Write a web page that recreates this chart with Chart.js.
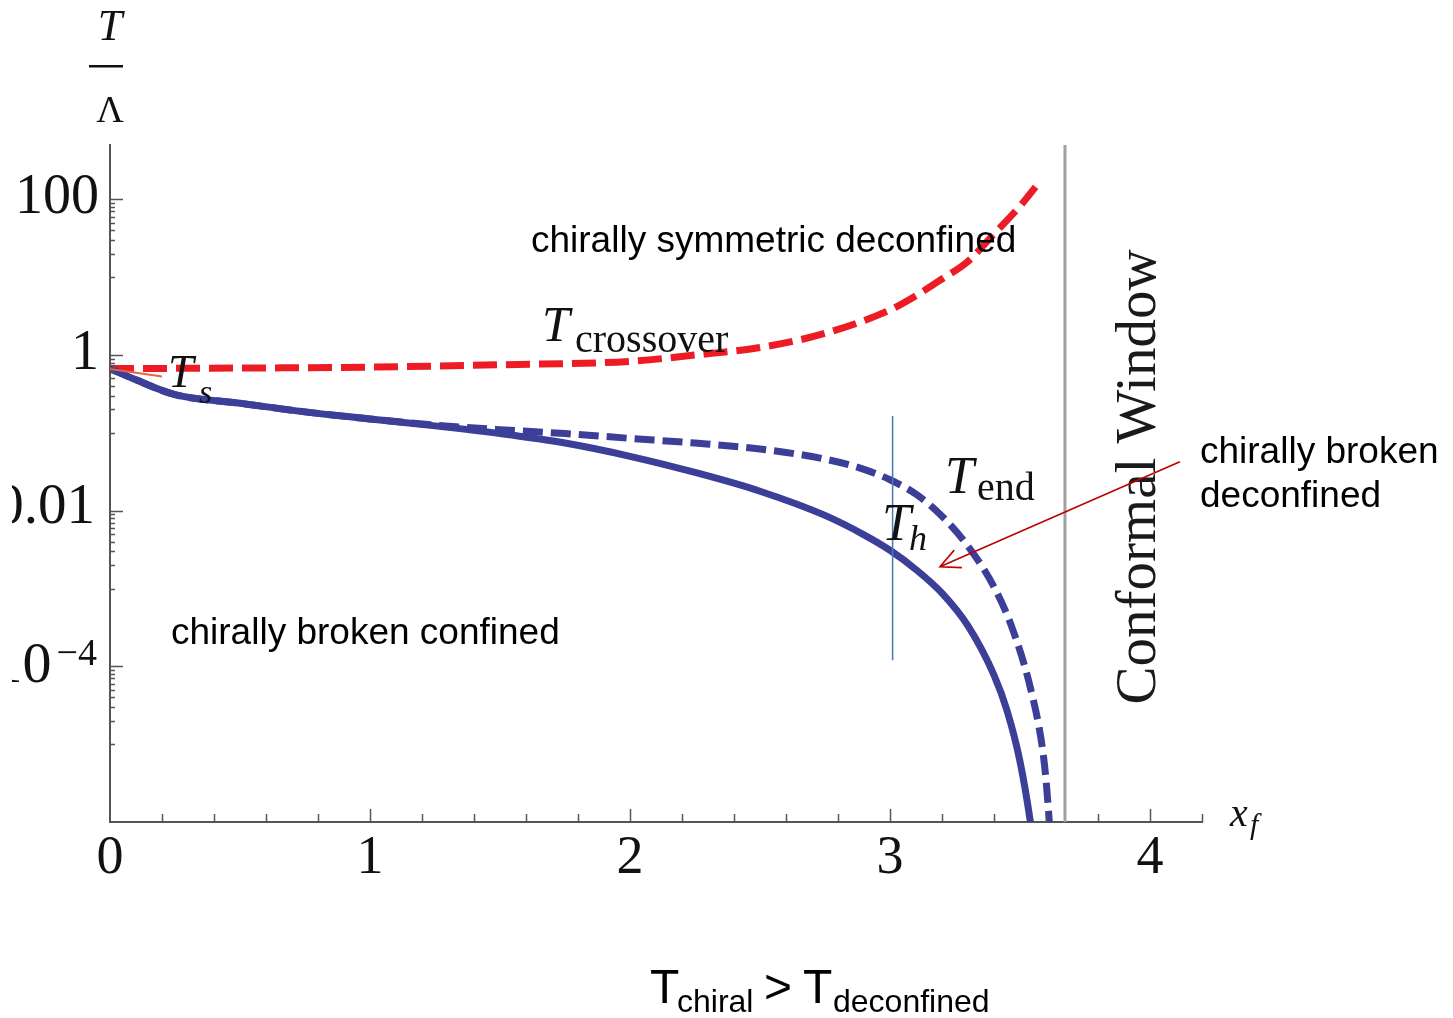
<!DOCTYPE html>
<html>
<head>
<meta charset="utf-8">
<title>T/Λ vs x_f</title>
<script src="https://cdn.jsdelivr.net/npm/chart.js@4.4.1/dist/chart.umd.min.js"></script>
<style>
  html, body { margin: 0; padding: 0; background: #fff; overflow: hidden; }
  #wrap { position: relative; width: 1453px; height: 1018px; }
</style>
</head>
<body>
<div id="wrap"><canvas id="chart" width="1453" height="1018"></canvas></div>
<script>
// values (x_f, T/Λ)
const xCrossover = [0, 0.5, 1.0, 1.5, 2.0, 2.25, 2.5, 2.75, 3.0, 3.1, 3.2, 3.3, 3.4, 3.5, 3.56];
const tCrossover = [0.67, 0.68, 0.70, 0.75, 0.83, 1.0, 1.25, 1.9, 3.8, 5.8, 9.5, 16, 36, 82, 145];

const xHadron = [0, 0.1, 0.25, 0.5, 0.75, 1.0, 1.25, 1.5, 1.75, 2.0, 2.25, 2.5, 2.75, 2.9, 3.0, 3.1, 3.2, 3.3, 3.4, 3.45, 3.5, 3.54, 3.56];
const tHadron = [0.67, 0.48, 0.31, 0.24, 0.186, 0.151, 0.123, 0.098, 0.074, 0.05, 0.031, 0.0178, 0.0087, 0.0049, 0.0031, 0.00175, 8.7e-4, 3.3e-4, 7.7e-5, 2.7e-5, 6e-6, 1e-6, 3e-7];

const xEnd = [0, 0.1, 0.25, 0.5, 0.75, 1.0, 1.25, 1.5, 1.75, 2.0, 2.25, 2.5, 2.75, 2.9, 3.0, 3.1, 3.2, 3.3, 3.4, 3.47, 3.54, 3.585, 3.6, 3.615];
const tEnd = [0.67, 0.48, 0.31, 0.24, 0.186, 0.151, 0.126, 0.11, 0.098, 0.085, 0.074, 0.062, 0.046, 0.034, 0.025, 0.0163, 0.0085, 0.0035, 0.00105, 3.1e-4, 5.3e-5, 9.5e-6, 3.5e-6, 8e-7];

const xSpinodal = [0, 0.2];
const tSpinodal = [0.66, 0.53];

const conformalEdge = 3.673;
const markerX = 3.01;
const markerSpan = [0.165, 1.2e-4];

// arrow from the "chirally broken deconfined" note to the region between the curves
const arrowFrom = { x: 4.115, y: 0.0425 };
const arrowTo = { x: 3.192, y: 1.9e-3 };

const xRange = [0, 4.2];
const yRange = [1e-6, 500];
const xTickLabels = ['0', '1', '2', '3', '4'];
const yTickValues = [1e-4, 1e-2, 1, 100];
const yTickLabels = ['10^−4', '0.01', '1', '100'];

const RED = 'rgb(237,28,36)';
const BLUE = '#3c3f97';
const SERIF = '"Liberation Serif", "Times New Roman", serif';
const SANS = '"Liberation Sans", Arial, sans-serif';

const pts = (xs, ys) => xs.map((x, i) => ({ x: x, y: ys[i] }));

// axes ticks, labels and all the text of the figure
const overlay = {
  id: 'overlay',
  afterDraw(chart) {
    const ctx = chart.ctx;
    const a = chart.chartArea;
    const xs = chart.scales.x, ys = chart.scales.y;
    ctx.save();

    // tick marks, drawn inwards like the original
    ctx.strokeStyle = '#555';
    ctx.lineWidth = 1.5;
    ctx.beginPath();
    for (let i = 1; i * 0.2 <= xRange[1] + 1e-9; i++) {
      const v = i * 0.2;
      const px = Math.round(xs.getPixelForValue(v)) + 0.5;
      const len = Math.abs(v - Math.round(v)) < 1e-6 ? 13 : 8;
      ctx.moveTo(px, a.bottom);
      ctx.lineTo(px, a.bottom - len);
    }
    yTickValues.forEach(v => {
      let py = Math.round(ys.getPixelForValue(v)) + 0.5;
      ctx.moveTo(a.left, py);
      ctx.lineTo(a.left + 13, py);
      for (let m = 1; m <= 9; m++) {
        py = Math.round(ys.getPixelForValue(m * v / 10)) + 0.5;
        ctx.moveTo(a.left, py);
        ctx.lineTo(a.left + 5, py);
      }
    });
    ctx.stroke();

    // tick labels
    ctx.fillStyle = '#111';
    ctx.font = `54px ${SERIF}`;
    ctx.textAlign = 'center';
    ctx.textBaseline = 'alphabetic';
    xTickLabels.forEach((t, i) => ctx.fillText(t, xs.getPixelForValue(i), a.bottom + 51));

    // the original figure is cut a little on its left side
    ctx.save();
    ctx.beginPath();
    ctx.rect(12, 0, a.left, chart.height);
    ctx.clip();
    ctx.textAlign = 'right';
    yTickValues.forEach((v, i) => {
      const py = ys.getPixelForValue(v);
      const lab = yTickLabels[i];
      if (lab.includes('^')) {
        const [base, exp] = lab.split('^');
        ctx.font = `38px ${SERIF}`;
        ctx.fillText(exp, 97, py - 1);
        const w = ctx.measureText(exp).width;
        ctx.font = `58px ${SERIF}`;
        ctx.fillText(base, 92 - w, py + 16);
      } else if (lab.length > 3) {
        ctx.font = `57px ${SERIF}`;
        ctx.fillText(lab, 95, py + 12);
      } else {
        ctx.font = `56px ${SERIF}`;
        ctx.fillText(lab, 99, py + 14);
      }
    });
    ctx.restore();

    // axis titles
    ctx.textAlign = 'center';
    ctx.font = `italic 44px ${SERIF}`;
    ctx.fillText('T', 110, 40);
    ctx.fillRect(89, 65, 34, 2.5);
    ctx.font = `38px ${SERIF}`;
    ctx.fillText('Λ', 110, 122);

    ctx.textAlign = 'left';
    ctx.font = `italic 40px ${SERIF}`;
    ctx.fillText('x', 1230, 826);
    ctx.font = `italic 30px ${SERIF}`;
    ctx.fillText('f', 1250, 834);

    // curve labels
    const mathLabel = (tx, ty, size, sub, sx, sy, subSize, subItalic) => {
      ctx.font = `italic ${size}px ${SERIF}`;
      ctx.fillText('T', tx, ty);
      ctx.font = `${subItalic ? 'italic ' : ''}${subSize}px ${SERIF}`;
      ctx.fillText(sub, sx, sy);
    };
    mathLabel(168, 387, 46, 's', 199, 403, 34, true);
    mathLabel(542, 341, 50, 'crossover', 575, 352, 40, false);
    mathLabel(945, 493, 52, 'end', 977, 500, 40, false);
    mathLabel(882, 540, 52, 'h', 909, 550, 36, true);

    // Conformal Window
    ctx.save();
    ctx.translate(1155, 477);
    ctx.rotate(-Math.PI / 2);
    ctx.textAlign = 'center';
    ctx.font = `57px ${SERIF}`;
    ctx.fillStyle = '#1a1a1a';
    ctx.fillText('Conformal Window', 0, 0);
    ctx.restore();

    // region notes
    ctx.fillStyle = '#000';
    ctx.font = `37px ${SANS}`;
    ctx.fillText('chirally symmetric deconfined', 531, 252);
    ctx.fillText('chirally broken confined', 171, 644);
    ctx.fillText('chirally broken', 1200, 463);
    ctx.fillText('deconfined', 1200, 507);

    // T_chiral > T_deconfined
    ctx.font = `48px ${SANS}`;
    ctx.fillText('T', 650, 1003);
    ctx.fillText('>', 764, 1003);
    ctx.fillText('T', 803, 1003);
    ctx.font = `32px ${SANS}`;
    ctx.fillText('chiral', 677, 1012);
    ctx.fillText('deconfined', 833, 1012);

    // arrow
    const x0 = xs.getPixelForValue(arrowFrom.x), y0 = ys.getPixelForValue(arrowFrom.y);
    const x1 = xs.getPixelForValue(arrowTo.x), y1 = ys.getPixelForValue(arrowTo.y);
    const ang = Math.atan2(y1 - y0, x1 - x0);
    ctx.strokeStyle = '#c00000';
    ctx.lineWidth = 1.6;
    ctx.beginPath();
    ctx.moveTo(x0, y0);
    ctx.lineTo(x1, y1);
    ctx.moveTo(x1 - 22 * Math.cos(ang - 0.45), y1 - 22 * Math.sin(ang - 0.45));
    ctx.lineTo(x1, y1);
    ctx.lineTo(x1 - 22 * Math.cos(ang + 0.45), y1 - 22 * Math.sin(ang + 0.45));
    ctx.stroke();

    ctx.restore();
  }
};

const ctx = document.getElementById('chart').getContext('2d');
new Chart(ctx, {
  type: 'line',
  data: {
    datasets: [
      {
        label: 'conformal window edge',
        data: [{ x: conformalEdge, y: yRange[1] }, { x: conformalEdge, y: yRange[0] }],
        borderColor: 'rgb(160,160,160)', borderWidth: 3, tension: 0
      },
      {
        label: 'x_f = 3 marker',
        data: [{ x: markerX, y: markerSpan[0] }, { x: markerX, y: markerSpan[1] }],
        borderColor: 'rgb(70,120,190)', borderWidth: 1.5, tension: 0
      },
      {
        label: 'T_s',
        data: pts(xSpinodal, tSpinodal),
        borderColor: '#f0603c', borderWidth: 2, tension: 0
      },
      {
        label: 'T_end',
        data: pts(xEnd, tEnd),
        borderColor: BLUE, borderWidth: 7, borderDash: [20, 8],
        cubicInterpolationMode: 'monotone'
      },
      {
        label: 'T_h',
        data: pts(xHadron, tHadron),
        borderColor: BLUE, borderWidth: 7,
        cubicInterpolationMode: 'monotone'
      },
      {
        label: 'T_crossover',
        data: pts(xCrossover, tCrossover),
        borderColor: RED, borderWidth: 7, borderDash: [24, 9],
        cubicInterpolationMode: 'monotone'
      }
    ]
  },
  options: {
    responsive: false,
    animation: false,
    layout: { padding: { left: 110, right: 251, top: 145, bottom: 196 } },
    elements: { point: { radius: 0 }, line: { fill: false, borderCapStyle: 'butt' } },
    plugins: { legend: { display: false }, tooltip: { enabled: false } },
    scales: {
      x: {
        type: 'linear', min: xRange[0], max: xRange[1],
        grid: { display: false, drawTicks: false },
        ticks: { display: false },
        border: { display: true, color: '#555', width: 2 }
      },
      y: {
        type: 'logarithmic', min: yRange[0], max: yRange[1],
        grid: { display: false, drawTicks: false },
        ticks: { display: false },
        border: { display: true, color: '#555', width: 2 }
      }
    }
  },
  plugins: [overlay]
});
</script>
</body>
</html>
